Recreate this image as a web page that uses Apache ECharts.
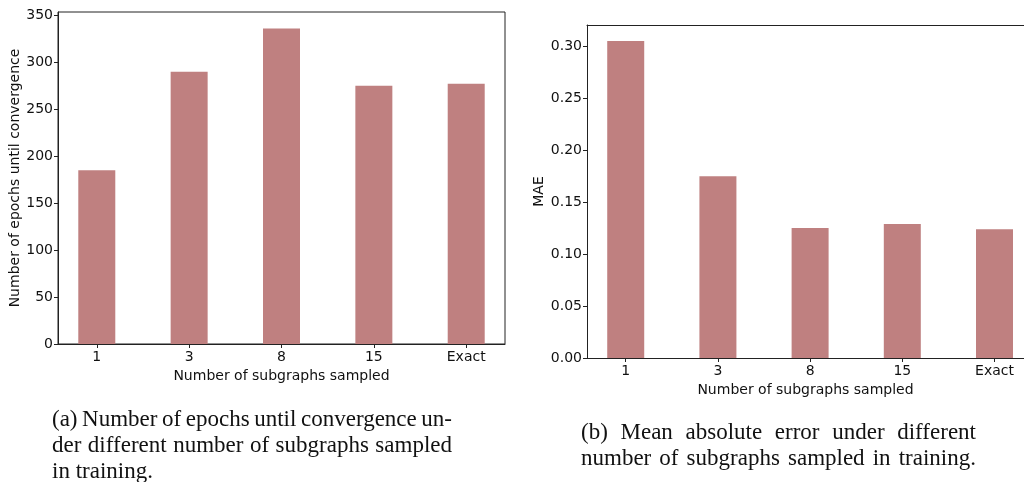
<!DOCTYPE html>
<html>
<head>
<meta charset="utf-8">
<script src="https://cdn.jsdelivr.net/npm/echarts@6/dist/echarts.min.js"></script>
<style>
  html, body { margin: 0; padding: 0; background: #fff; }
  #wrap { position: relative; width: 1024px; height: 482px; overflow: hidden; }
  #main { position: absolute; left: 0; top: 0; width: 1024px; height: 482px; }
  .caption {
    position: absolute;
    font-family: "Liberation Serif", serif;
    font-size: 23px;
    line-height: 26px;
    color: #111;
  }
  .caption div { text-align: justify; text-align-last: justify; white-space: nowrap; }
  .caption div.last { text-align-last: left; }
  .caption div.tight { word-spacing: -1.6px; }
</style>
</head>
<body>
<div id="wrap">
  <div id="main"></div>
  <div class="caption" style="left:52px; top:406px; width:400px;">
    <div class="tight">(a) Number of epochs until convergence un-</div>
    <div>der different number of subgraphs sampled</div>
    <div class="last">in training.</div>
  </div>
  <div class="caption" style="left:581px; top:419px; width:395px;">
    <div>(b) Mean absolute error under different</div>
    <div>number of subgraphs sampled in training.</div>
  </div>
</div>
<script>
// sample counts on the x axis (shared by both panels)
var categories = ['1', '3', '8', '15', 'Exact'];
var categoryPos = [0, 1, 2, 3, 4];
// (a) epochs until convergence
var epochValues = [185, 290, 336, 275, 277];
var epochTicks = [0, 50, 100, 150, 200, 250, 300, 350];
// (b) mean absolute error
var maeValues = [0.305, 0.175, 0.125, 0.129, 0.124];
var maeTicks = [0, 0.05, 0.10, 0.15, 0.20, 0.25, 0.30];

var barColor = '#bf8080';
var axisColor = '#222';
var tickFont = 'DejaVu Sans';

function toPoints(values) {
    return values.map(function (v, i) { return [categoryPos[i], v]; });
}

function makeXAxis(gridIndex, max) {
    return {
        type: 'value',
        gridIndex: gridIndex,
        min: -0.42,
        max: max,
        name: 'Number of subgraphs sampled',
        nameLocation: 'middle',
        nameGap: 22,
        nameTextStyle: { fontFamily: tickFont, fontSize: 14, color: '#111' },
        axisLine: { show: true, onZero: false, lineStyle: { color: axisColor, width: 1 } },
        axisTick: { show: true, length: 4, customValues: categoryPos, lineStyle: { color: axisColor } },
        axisLabel: {
            customValues: categoryPos,
            margin: 6,
            fontFamily: tickFont,
            fontSize: 14,
            color: '#111',
            formatter: function (v) { return categories[Math.round(v)]; }
        },
        splitLine: { show: false }
    };
}

function makeYAxis(gridIndex, ticks, max, name, nameGap, digits) {
    return {
        type: 'value',
        gridIndex: gridIndex,
        min: 0,
        max: max,
        name: name,
        nameLocation: 'middle',
        nameGap: nameGap,
        nameRotate: 90,
        nameTextStyle: { fontFamily: tickFont, fontSize: 14, color: '#111' },
        axisLine: { show: true, onZero: false, lineStyle: { color: axisColor, width: 1 } },
        axisTick: { show: true, length: 4, customValues: ticks, lineStyle: { color: axisColor } },
        axisLabel: {
            customValues: ticks,
            margin: 5,
            fontFamily: tickFont,
            fontSize: 14,
            color: '#111',
            formatter: function (v) { return v.toFixed(digits); }
        },
        splitLine: { show: false }
    };
}

var chart = echarts.init(document.getElementById('main'), null, { renderer: 'canvas' });

// top spine of panel (b); its right edge runs off the picture
var topSpine = {
    type: 'value',
    gridIndex: 1,
    position: 'top',
    min: -0.42,
    max: 4.32,
    axisLine: { show: true, onZero: false, lineStyle: { color: axisColor, width: 1 } },
    axisTick: { show: false },
    axisLabel: { show: false },
    splitLine: { show: false }
};

var options = {
    backgroundColor: '#fff',
    animation: false,
    grid: [
        { left: 58, top: 12, width: 447, height: 332, show: true, borderColor: axisColor, borderWidth: 1 },
        { left: 587, top: 25, right: 0, height: 333 }
    ],
    xAxis: [makeXAxis(0, 4.42), makeXAxis(1, 4.32), topSpine],
    yAxis: [
        makeYAxis(0, epochTicks, 353.5, 'Number of epochs until convergence', 35, 0),
        makeYAxis(1, maeTicks, 0.3205, 'MAE', 41, 2)
    ],
    series: [
        {
            type: 'bar',
            xAxisIndex: 0,
            yAxisIndex: 0,
            barWidth: 37,
            itemStyle: { color: barColor },
            data: toPoints(epochValues)
        },
        {
            type: 'bar',
            xAxisIndex: 1,
            yAxisIndex: 1,
            barWidth: 37,
            itemStyle: { color: barColor },
            data: toPoints(maeValues)
        }
    ]
};

chart.setOption(options);
</script>
</body>
</html>
